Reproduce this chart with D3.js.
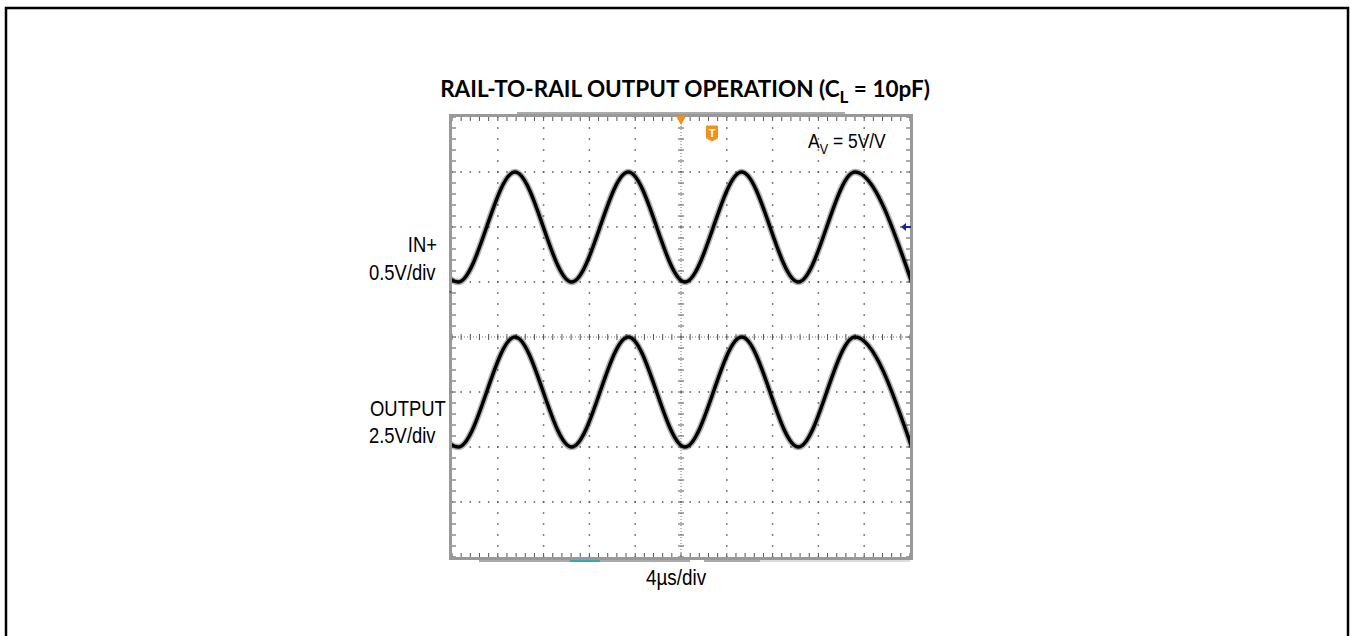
<!DOCTYPE html>
<html>
<head>
<meta charset="utf-8">
<script src="https://cdn.jsdelivr.net/npm/d3@7"></script>
<style>
  body { margin: 0; background: #fff; }
  svg { display: block; }
</style>
</head>
<body>
<script>
// scope settings
var timePerDiv = 4;          // us/div
var inVoltsPerDiv = 0.5;     // IN+
var outVoltsPerDiv = 2.5;    // OUTPUT
var inRefDiv = 1;            // 0V position of IN+ (divisions from centre)
var outRefDiv = -2;          // 0V position of OUTPUT

// extrema of the traces (time in us, volts)
var extremaTimes = [-24.4, -19.45, -14.5, -9.55, -4.6, 0.35, 5.3, 10.25, 15.2, 20.15];
var inPlusVolts  = [1.0, 0.0, 1.0, 0.0, 1.0, 0.0, 1.0, 0.0, 1.0, 0.0];
var outputVolts  = [5.0, 0.0, 5.0, 0.0, 5.0, 0.0, 5.0, 0.0, 5.0, 0.0];

var labels = [
  {text: "IN+", x: 437, y: 252, anchor: "end"},
  {text: "0.5V/div", x: 369, y: 280, anchor: "start"},
  {text: "OUTPUT", x: 370, y: 416, anchor: "start"},
  {text: "2.5V/div", x: 369, y: 443, anchor: "start"}
];

var w = 1351, h = 636;

var svg = d3.select("body")
            .append("svg")
            .attr("width", w)
            .attr("height", h);

// outer frame
svg.append("rect")
    .attr("x", 6).attr("y", 8)
    .attr("width", 1342).attr("height", 700)
    .attr("fill", "none")
    .attr("stroke", "#000")
    .attr("stroke-width", 2.5);

// title
var title = svg.append("text")
    .attr("x", 685).attr("y", 97)
    .attr("text-anchor", "middle")
    .style("font-family", "Lato, 'Open Sans', sans-serif")
    .style("font-weight", "bold")
    .style("font-size", "22.5px")
    .text("RAIL-TO-RAIL OUTPUT OPERATION (C");
title.append("tspan").attr("dy", 6).style("font-size", "17px").text("L");
title.append("tspan").attr("dy", -6).text(" = 10pF)");

var x = d3.scaleLinear().domain([-5 * timePerDiv, 5 * timePerDiv]).range([452, 910]);
var y = d3.scaleLinear().domain([-4, 4]).range([557, 117]);

var minorT = d3.range(-20, 20.001, timePerDiv / 5);
var minorD = d3.range(-4, 4.001, 0.2);

// gray bars around the screen
var bars = svg.append("g");
bars.append("rect").attr("x", 517).attr("y", 112).attr("width", 328).attr("height", 3).attr("fill", "#aaa");
[[479, 570, "#aaa"], [570, 600, "#3aa6b0"], [600, 690, "#aaa"], [704, 760, "#aaa"], [760, 910, "#ddd"]]
  .forEach(function(s) {
    bars.append("rect").attr("x", s[0]).attr("y", 560).attr("width", s[1] - s[0]).attr("height", 2).attr("fill", s[2]);
  });

var grid = svg.append("g");

// dotted grid
[-16, -12, -8, -4, 4, 8, 12, 16].forEach(function(t) {
  grid.selectAll(null).data(minorD).enter().append("rect")
      .attr("x", x(t) - 0.75).attr("y", function(d) { return y(d) - 0.75; })
      .attr("width", 1.5).attr("height", 1.5).attr("fill", "#555");
});
[-3, -2, -1, 1, 2, 3].forEach(function(d0) {
  grid.selectAll(null).data(minorT).enter().append("rect")
      .attr("x", function(t) { return x(t) - 0.75; }).attr("y", y(d0) - 0.75)
      .attr("width", 1.5).attr("height", 1.5).attr("fill", "#555");
});

// centre cross with ticks
grid.append("line").attr("x1", x(0)).attr("x2", x(0)).attr("y1", y(4)).attr("y2", y(-4))
    .attr("stroke", "#777").attr("stroke-width", 1).attr("stroke-dasharray", "1,2");
grid.append("line").attr("x1", x(-20)).attr("x2", x(20)).attr("y1", y(0)).attr("y2", y(0))
    .attr("stroke", "#777").attr("stroke-width", 1).attr("stroke-dasharray", "1,2");
grid.selectAll(null).data(minorD).enter().append("line")
    .attr("x1", x(0) - 3).attr("x2", x(0) + 3)
    .attr("y1", function(d) { return y(d); }).attr("y2", function(d) { return y(d); })
    .attr("stroke", "#555").attr("stroke-width", 1);
grid.selectAll(null).data(minorT).enter().append("line")
    .attr("x1", function(t) { return x(t); }).attr("x2", function(t) { return x(t); })
    .attr("y1", y(0) - 3).attr("y2", y(0) + 3)
    .attr("stroke", "#555").attr("stroke-width", 1);

// edge ticks
grid.selectAll(null).data(minorT).enter().append("line")
    .attr("x1", function(t) { return x(t); }).attr("x2", function(t) { return x(t); })
    .attr("y1", y(4)).attr("y2", y(4) + 4)
    .attr("stroke", "#555").attr("stroke-width", 1);
grid.selectAll(null).data(minorT).enter().append("line")
    .attr("x1", function(t) { return x(t); }).attr("x2", function(t) { return x(t); })
    .attr("y1", y(-4)).attr("y2", y(-4) - 4)
    .attr("stroke", "#555").attr("stroke-width", 1);
grid.selectAll(null).data(minorD).enter().append("line")
    .attr("x1", x(-20)).attr("x2", x(-20) + 4)
    .attr("y1", function(d) { return y(d); }).attr("y2", function(d) { return y(d); })
    .attr("stroke", "#555").attr("stroke-width", 1);
grid.selectAll(null).data(minorD).enter().append("line")
    .attr("x1", x(20)).attr("x2", x(20) - 4)
    .attr("y1", function(d) { return y(d); }).attr("y2", function(d) { return y(d); })
    .attr("stroke", "#555").attr("stroke-width", 1);

// screen border
svg.append("rect")
    .attr("x", x(-20) - 1.5).attr("y", y(4) - 1.5)
    .attr("width", x(20) - x(-20) + 3).attr("height", y(-4) - y(4) + 3)
    .attr("fill", "none").attr("stroke", "#999").attr("stroke-width", 3);

// traces
svg.append("defs").append("clipPath").attr("id", "screen")
   .append("rect").attr("x", x(-20)).attr("y", y(4))
   .attr("width", x(20) - x(-20)).attr("height", y(-4) - y(4));

function tracePts(volts, vpd, ref) {
  return extremaTimes.map(function(t, i) { return [t, volts[i] / vpd + ref]; });
}
var line = d3.line()
    .x(function(d) { return x(d[0]); })
    .y(function(d) { return y(d[1]); })
    .curve(d3.curveMonotoneX);

var traces = svg.append("g").attr("clip-path", "url(#screen)");
[tracePts(inPlusVolts, inVoltsPerDiv, inRefDiv), tracePts(outputVolts, outVoltsPerDiv, outRefDiv)]
  .forEach(function(pts) {
    traces.append("path").attr("d", line(pts)).attr("fill", "none")
        .attr("stroke", "#000").attr("stroke-opacity", 0.3).attr("stroke-width", 6.5);
    traces.append("path").attr("d", line(pts)).attr("fill", "none")
        .attr("stroke", "#000").attr("stroke-width", 3.5);
  });

// trigger marker and badge
svg.append("path")
    .attr("d", d3.symbol().type(d3.symbolTriangle).size(45)())
    .attr("transform", "translate(" + x(0) + "," + (y(4) + 2) + ") rotate(180)")
    .attr("fill", "#f0901e");
var badge = svg.append("g").attr("transform", "translate(712,133)");
badge.append("path")
    .attr("d", "M-5.5,-7 L5.5,-7 L5.5,5 L0,8 L-5.5,5 Z")
    .attr("fill", "#f0901e").attr("stroke", "#f0901e").attr("stroke-width", 1).attr("stroke-linejoin", "round");
badge.append("text").attr("x", 0).attr("y", 3.5).attr("text-anchor", "middle")
    .style("font-family", "Liberation Sans, Arial, sans-serif").style("font-weight", "bold")
    .style("font-size", "11px").attr("fill", "#fff").text("T");

// channel markers
svg.append("path")
    .attr("d", "M901,227 L906,223 L906,226 L911,226 L911,228 L906,228 L906,231 Z")
    .attr("fill", "#1a22a8");
svg.append("rect").attr("x", 449.5).attr("y", 291).attr("width", 2).attr("height", 2).attr("fill", "#5050a0");
svg.append("rect").attr("x", 449.5).attr("y", 391).attr("width", 2).attr("height", 2).attr("fill", "#3aa6b0");

// text (scope font is a bit taller than Arial)
var font = "'Liberation Sans', Arial, sans-serif";
svg.selectAll(".lbl").data(labels).enter().append("text")
    .attr("class", "lbl")
    .attr("transform", function(d) { return "translate(" + d.x + "," + d.y + ") scale(0.97,1.13)"; })
    .attr("text-anchor", function(d) { return d.anchor; })
    .style("font-family", font).style("font-size", "19px")
    .text(function(d) { return d.text; });

var av = svg.append("text")
    .attr("transform", "translate(808,148) scale(0.97,1.12)")
    .style("font-family", font).style("font-size", "18px")
    .text("A");
av.append("tspan").attr("dy", 5).style("font-size", "13px").text("V");
av.append("tspan").attr("dy", -5).text(" = 5V/V");

svg.append("text")
    .attr("transform", "translate(676,585) scale(0.97,1.12)")
    .attr("text-anchor", "middle")
    .style("font-family", font).style("font-size", "19.5px")
    .text("4\u00b5s/div");
</script>
</body>
</html>
